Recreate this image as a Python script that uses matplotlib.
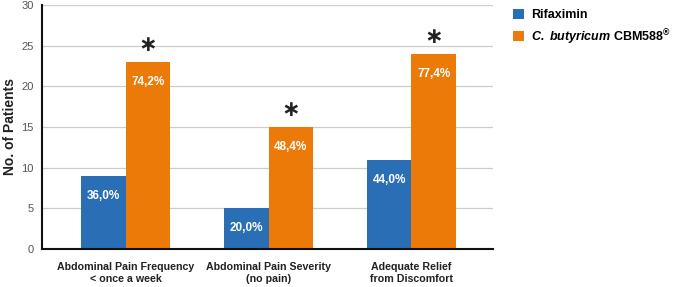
import matplotlib

matplotlib.use("Agg")
import matplotlib.pyplot as plt
import numpy as np

categories = ["Abdominal Pain Frequency\n< once a week", "Abdominal Pain Severity\n(no pain)", "Adequate Relief\nfrom Discomfort"]
rifaximin = [9, 5, 11]
cbm588 = [23, 15, 24]
rifaximin_pct = ["36,0%", "20,0%", "44,0%"]
cbm588_pct = ["74,2%", "48,4%", "77,4%"]
significant = [True, True, True]

plt.rcParams["font.family"] = ["Liberation Sans", "DejaVu Sans"]
plt.rcParams["mathtext.fontset"] = "custom"
plt.rcParams["mathtext.rm"] = "Liberation Sans:bold"
plt.rcParams["mathtext.bfit"] = "Liberation Sans:bold:italic"
plt.rcParams["mathtext.it"] = "Liberation Sans:bold:italic"

blue = "#2a6fb5"
orange = "#ec7a08"

fig = plt.figure(figsize=(6.77, 2.87), dpi=100)
ax = fig.add_axes([0.062, 0.132, 0.666, 0.851])

x = np.arange(len(categories))
w = 0.312
b1 = ax.bar(x - w / 2, rifaximin, w, color=blue, label="Rifaximin", zorder=3)
b2 = ax.bar(x + w / 2, cbm588, w, color=orange,
            label=r"$\mathbfit{C.}$ $\mathbfit{butyricum}$ CBM588$^{\circledR}$", zorder=3)

for rect, txt in zip(b1, rifaximin_pct):
    ax.annotate(txt, (rect.get_x() + rect.get_width() / 2, rect.get_height()),
                xytext=(0, -20), textcoords="offset pixels",
                ha="center", va="center", color="white", fontsize=8.5, fontweight="bold", zorder=4)
for rect, txt, sig in zip(b2, cbm588_pct, significant):
    cx = rect.get_x() + rect.get_width() / 2
    ax.annotate(txt, (cx, rect.get_height()), xytext=(0, -20), textcoords="offset pixels",
                ha="center", va="center", color="white", fontsize=8.5, fontweight="bold", zorder=4)
    if sig:
        ax.annotate("\u2217", (cx, rect.get_height()), xytext=(0, 19), textcoords="offset pixels",
                    ha="center", va="center_baseline", color="#222222", fontsize=16,
                    fontweight="bold", family="DejaVu Sans", zorder=4)

ax.set_xlim(-0.587, 2.57)
ax.set_ylim(0, 30)
ax.set_yticks(range(0, 31, 5))
ax.set_xticks(x)
ax.set_xticklabels(categories, fontsize=7.7, fontweight="bold", color="#222222", linespacing=1.35)
ax.tick_params(axis="y", labelsize=8, colors="#555555", length=0, pad=6)
ax.tick_params(axis="x", length=0, pad=9)
ax.set_ylabel("No. of Patients", fontsize=10, fontweight="bold", color="#222222", labelpad=3)

ax.grid(axis="y", color="#cccccc", linewidth=0.9, zorder=0)
for s in ["top", "right"]:
    ax.spines[s].set_visible(False)
for s in ["left", "bottom"]:
    ax.spines[s].set_linewidth(1.5)
    ax.spines[s].set_color("#111111")
    ax.spines[s].set_zorder(5)

fig.legend(handles=[b1, b2], loc="upper left", bbox_to_anchor=(0.745, 1.0), frameon=False,
           prop={"size": 9, "weight": "bold"}, handlelength=0.85, handleheight=0.85,
           handletextpad=0.6, labelspacing=0.45, borderaxespad=0.3)

fig.savefig("out.png", dpi=100)
